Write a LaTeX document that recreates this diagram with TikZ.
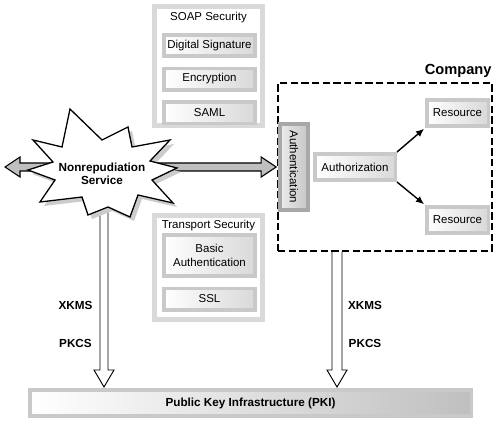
\documentclass[tikz,border=0pt]{standalone}
\usepackage{fontspec}
\setmainfont{Liberation Sans}
\usepackage{graphicx}
\usetikzlibrary{arrows.meta, positioning, calc}
\tikzset{panel/.style={rectangle,draw=gray!30,line width=4pt,fill=white},entry/.style={rectangle,draw=gray!42,line width=3pt,left color=white,right color=gray!30,align=center,inner sep=1pt,minimum width=2.745cm,minimum height=0.645cm},proto/.style={font=\bfseries\fontsize{10}{11}\selectfont},hollow/.style={draw,line width=0.8pt,fill=white},fat/.style={draw,line width=0.9pt,fill=gray!50},line/.style={-{Latex[length=7pt,width=6pt]},line width=1.2pt,shorten >=1pt}}

\begin{document}
\begin{tikzpicture}[x=0.3mm,y=-0.3mm,node distance=2.55mm,font=\fontsize{9.8}{11.5}\selectfont]
\useasboundingbox (0,0) rectangle (500,423);
\node[panel,minimum width=3.25cm,minimum height=3.58cm] (soap) at (208.5,66) {};
\node (soaptitle) at (208.5,18) {SOAP Security};
\node[entry] (sig) at (209.5,45.5) {Digital Signature};
\node[entry,below=of sig] (enc) {Encryption};
\node[entry,below=of enc] (saml) {SAML};
\node[panel,minimum width=3.25cm,minimum height=3.13cm] (transport) at (208.5,267.5) {};
\node (transporttitle) at (208.5,226) {Transport Security};
\node[entry,minimum height=1.245cm] (basic) at (209.5,255.5) {Basic\\Authentication};
\node[entry,below=of basic] (ssl) {SSL};
\node[entry,right color=gray!50,minimum width=13.245cm,minimum height=0.795cm,font=\bfseries\fontsize{10}{11}\selectfont] (pki) at (250.5,403) {Public Key Infrastructure (PKI)};
\coordinate (nrsfoot) at (104,207);
\coordinate (nrstip) at ($(nrsfoot |- pki.north)+(0,-1)$);
\coordinate (compfoot) at (337,252);
\coordinate (comptip) at ($(compfoot |- pki.north)+(0,-1)$);
\draw[hollow] ($(nrsfoot)+(-4,0)$) -- ($(nrstip)+(-4,-17)$) -- ++(-6,0) -- (nrstip) -- ++(10,-17) -- ++(-6,0) -- ($(nrsfoot)+(4,0)$);
\draw[hollow] ($(compfoot)+(-5,0)$) -- ($(comptip)+(-5,-17)$) -- ++(-5,0) -- (comptip) -- ++(10,-17) -- ++(-5,0) -- ($(compfoot)+(5,0)$);
\node[draw,dashed,dash pattern=on 2.2mm off 1mm,line width=1.6pt,minimum width=6.42cm,minimum height=5.04cm] (company) at (385,167) {};
\node[font=\bfseries\fontsize{12.5}{14}\selectfont,anchor=south east,inner sep=1pt,yshift=0.8mm] (companylabel) at (company.north east) {Company};
\node[entry,minimum width=2.415cm,minimum height=0.795cm] (authz) at (355,167) {Authorization};
\node[entry,minimum width=1.845cm,minimum height=0.795cm] (res1) at (457.5,113) {Resource};
\node[entry,minimum width=1.845cm,minimum height=0.795cm] (res2) at (457.5,220) {Resource};
\draw[line] (authz.north east) -- (res1.south west);
\draw[line] (authz.south east) -- (res2.north west);
\node[rectangle,draw=gray!68,line width=3pt,left color=gray!15,right color=gray!45,minimum width=0.855cm,minimum height=2.595cm,inner sep=0pt] (auth) at (294,167) {\rotatebox{-90}{Authentication}};
\coordinate (farleft) at (5,167);
\coordinate (authtip) at ($(auth.west)+(-1.8,0)$);
\draw[fat] (farleft) -- ++(15,-10) -- ++(0,6) -- ($(authtip)+(-15,-4)$) -- ++(0,-6) -- (authtip) -- ++(-15,10) -- ++(0,-6) -- ($(farleft)+(15,4)$) -- ++(0,6) -- cycle;
\draw[line width=1.1pt,fill=white,preaction={fill=gray!40,transform canvas={shift={(1.2mm,-1.2mm)}}}] (70,109) -- (102,140) -- (128,127) -- (132,147) -- (170,140) -- (150,161) -- (177,168) -- (152,180) -- (173,203) -- (138,195) -- (130,217) -- (108,207) -- (88,215) -- (82,197) -- (40,202) -- (55,180) -- (28,170) -- (53,162) -- (33,140) -- (62,147) -- cycle;
\node[proto,align=center] (nrs) at (102,174) {Nonrepudiation\\Service};
\node[proto] (xkmsl) at (75.5,305) {XKMS};
\node[proto] (pkcsl) at (75.5,343) {PKCS};
\node[proto] (xkmsr) at (365,305) {XKMS};
\node[proto] (pkcsr) at (365,343) {PKCS};
\end{tikzpicture}
\end{document}
